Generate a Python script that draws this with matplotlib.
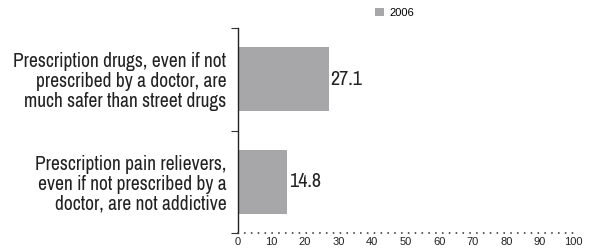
import matplotlib
matplotlib.use("Agg")
import matplotlib.pyplot as plt

categories = ["Prescription pain relievers,\neven if not prescribed by a\ndoctor, are not addictive",
              "Prescription drugs, even if not\nprescribed by a doctor, are\nmuch safer than street drugs"]
values_2006 = [14.8, 27.1]
x_ticks = [0, 10, 20, 30, 40, 50, 60, 70, 80, 90, 100]
series_name = "2006"

plt.rcParams['font.family'] = ['Liberation Sans', 'DejaVu Sans']
narrow = ['Archivo Narrow', 'Liberation Sans', 'DejaVu Sans']

fig = plt.figure(figsize=(5.93, 2.5), dpi=100)
ax = fig.add_axes([237.5/593, 1-233/250, (573.6-237.5)/593, (233-28)/250])

y = list(range(len(categories)))
bars = ax.barh(y, values_2006, height=0.62, color='#a7a7aa', label=series_name)
for yi, v in zip(y, values_2006):
    ax.text(v + 0.6, yi, f"{v}", va='center', ha='left', fontsize=14.5, color='#222222', family=narrow)

ax.set_xlim(0, 100)
ax.set_ylim(-0.5, 1.5)
ax.set_xticks(x_ticks)
ax.set_xticklabels([str(t) for t in x_ticks], fontsize=8, color='#222222')
ax.tick_params(axis='x', length=0, pad=3)
ax.set_yticks([-0.5, 0.5, 1.5])
ax.set_yticklabels([])
ax.set_yticks(y, minor=True)
ax.set_yticklabels(categories, minor=True, fontsize=14, color='#222222', linespacing=1.05, family=narrow)
ax.tick_params(axis='y', which='minor', length=0, pad=8)
ax.tick_params(axis='y', which='major', length=5, width=0.8, color='#333333')
for s in ['top', 'right']:
    ax.spines[s].set_visible(False)
ax.spines['left'].set_color('#222222')
ax.spines['left'].set_linewidth(1.0)
ax.spines['bottom'].set_color('#444444')
ax.spines['bottom'].set_linestyle((0, (0.01, 3.5)))
ax.spines['bottom'].set_linewidth(1.4)
ax.spines['bottom'].set_capstyle('round')
for lbl in ax.get_yticklabels(minor=True):
    lbl.set_multialignment('right')

leg = fig.legend(handles=[bars], labels=[series_name], loc='center', bbox_to_anchor=(395/593, 1-13/250),
                 frameon=False, fontsize=8, handlelength=0.8, handleheight=0.8, handletextpad=0.5)

fig.savefig("out.png", dpi=100)
